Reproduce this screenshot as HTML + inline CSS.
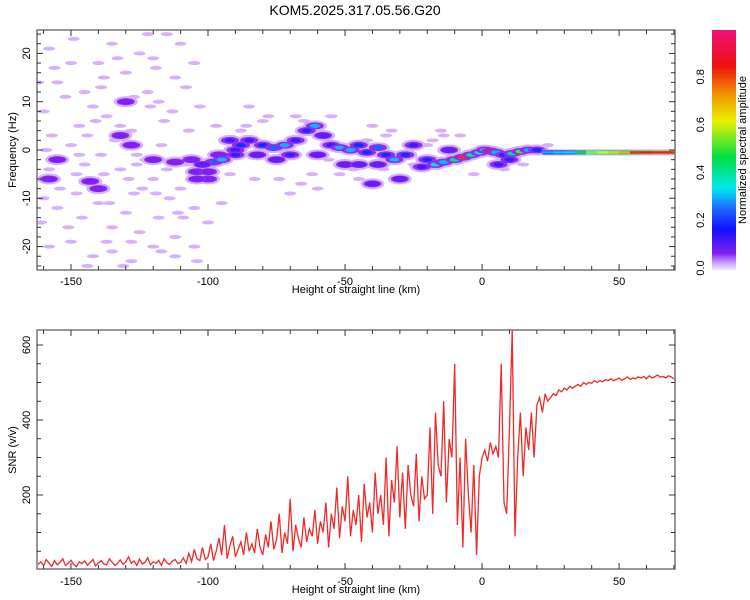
<!DOCTYPE html>
<html><head><meta charset="utf-8">
<style>
body{margin:0;background:#fff;font-family:"Liberation Sans",sans-serif;}
svg{display:block}
text{font-family:"Liberation Sans",sans-serif;fill:#000}
</style></head>
<body>
<svg id="chart" width="750" height="600" xmlns="http://www.w3.org/2000/svg">
<defs>
<linearGradient id="cg" x1="0" y1="1" x2="0" y2="0">
<stop offset="0" stop-color="#f2e6ff"/><stop offset="0.03" stop-color="#c9a0ff"/><stop offset="0.07" stop-color="#8020f0"/>
<stop offset="0.17" stop-color="#1010ff"/><stop offset="0.25" stop-color="#2060ff"/><stop offset="0.34" stop-color="#00e8f0"/>
<stop offset="0.47" stop-color="#00e040"/><stop offset="0.62" stop-color="#e8f000"/><stop offset="0.72" stop-color="#f0a000"/>
<stop offset="0.85" stop-color="#f01010"/><stop offset="1" stop-color="#f0107a"/>
</linearGradient>
<clipPath id="c1"><rect x="37" y="30" width="638" height="240"/></clipPath>
<clipPath id="c2"><rect x="37" y="330" width="638" height="239"/></clipPath>
</defs>
<text x="355" y="15" font-size="14" text-anchor="middle">KOM5.2025.317.05.56.G20</text>
<g id="spec" clip-path="url(#c1)"></g>
<g id="snr" clip-path="url(#c2)"></g>
<g id="axes"></g>
<rect x="712" y="30" width="24" height="240" fill="url(#cg)"/>
<text transform="translate(746,150) rotate(-90)" font-size="11" text-anchor="middle">Normalized spectral amplitude</text>
<text transform="translate(16,150) rotate(-90)" font-size="11" text-anchor="middle">Frequency (Hz)</text>
<text x="356" y="293" font-size="11" text-anchor="middle">Height of straight line (km)</text>
<text transform="translate(16,450) rotate(-90)" font-size="11" text-anchor="middle">SNR (v/v)</text>
<text x="356" y="593" font-size="11" text-anchor="middle">Height of straight line (km)</text>
</svg>
<script>
const xTicks=[-150,-100,-50,0,50];
const fTicks=[-20,-10,0,10,20];
const snrTicks=[200,400,600];
const cbTicks=[0.0,0.2,0.4,0.6,0.8];
const noiseX=[-158,-155,-150,-145,-140,-135,-130,-125,-120,-115,-110,-105,-160,-152,-147,-142,-137,-132,-127,-122,-118,-112,-108,-103,-157,-150,-144,-139,-134,-128,-123,-117,-158,-153,-148,-143,-138,-132,-127,-120,-115,-110,-160,-155,-146,-140,-135,-130,-125,-118,-112,-105,-158,-150,-142,-135,-128,-120,-112,-105,-100,-95,-85,-80,-65,-55,-40,-35,-25,-60,-45,-122,-162,-148,-138,-128,-116,
-156,-149,-141,-133,-126,-119,-113,-107,-161,-154,-145,-136,-129,-121,-114,-109,-151,-144,-137,-131,-124,-117,-111,-104,-159,-147,-139,-126,-119,-108,-88,-83,-78,-68,-62,-57,-47,-42,-33,-28,-18,-14,-70,-52,-36,-92,-97,-86,-74,-66,-15,-8,-3,8,15,24,-20,-56];
const noiseF=[21,14,18,12,18,22,16,20,19,24,22,18,8,11,5,9,7,5,11,12,10,15,13,9,3,1,3,-1,2,4,-2,1,-4,-2,-5,-7,-5,-4,-9,-6,-4,-8,-10,-12,-14,-11,-16,-13,-17,-14,-18,-12,-20,-19,-22,-21,-23,-20,-22,-20,-15,-11,9,6,6,7,5,3,-3,-8,-6,24,14,-9,15,-19,6,
17,23,6,19,-1,17,8,4,-15,-8,-3,-11,-6,9,-10,-14,-16,-24,-19,-24,-8,-21,-13,-23,0,-1,13,-3,-9,-3,4,-6,7,7,-5,3,-4,2,4,-6,2,3,-9,-5,-4,-5,5,5,-6,-7,4,3,-5,-4,-3,1,1,-2];
const blobX=[-155,-143,-140,-130,-132,-128,-158,-120,-112,-106,-104,-100,-96,-104,-98,-95,-102,-92,-88,-90,-85,-82,-80,-76,-72,-70,-68,-64,-61,-58,-55,-52,-48,-45,-42,-38,-35,-32,-28,-25,-30,-40,-38,-20,-17,-14,-10,-7,-4,-1,1,3,5,8,11,14,17,20,6,10,-60,-50,-45,-22,-12,-75,-90,-100];
const blobF=[-2,-6.5,-8,10,3,1,-6,-2,-2.5,-2,-4.5,-6,-1,-6,-2.5,-2,-3,2,1,0,2,-1,1,0.5,1,-1,2,4,5,3,1,0.5,0,1,-0.5,0.5,-1,-2,-1,1,-6,-7,-3,-2,-3,-2.5,-2,-1.5,-1,-0.5,0,-0.2,-0.5,-1,-0.7,-0.3,0,0,-3,-2,-1,-3,-3,-3.5,0,-2,-1,-4.5];
const blobA=[0.1,0.1,0.1,0.1,0.1,0.1,0.1,0.1,0.1,0.1,0.1,0.1,0.1,0.1,0.25,0.3,0.12,0.15,0.2,0.15,0.15,0.12,0.2,0.25,0.3,0.15,0.15,0.2,0.3,0.12,0.15,0.3,0.3,0.2,0.2,0.25,0.2,0.3,0.2,0.15,0.12,0.12,0.12,0.2,0.35,0.3,0.4,0.8,0.4,0.35,0.4,0.85,0.3,0.2,0.4,0.5,0.3,0.2,0.15,0.15,0.12,0.12,0.12,0.15,0.12,0.12,0.15,0.1];
const lineX=[22,26,30,34,38,42,46,50,54,58,62,66,70];
const lineA=[0.3,0.32,0.35,0.45,0.55,0.6,0.65,0.7,0.8,0.85,0.9,0.9,0.9];
const snrX=[];for(let k=-162;k<=70;k++)snrX.push(k);
const snrY=[15,22,12,28,18,10,25,14,20,30,12,18,26,15,9,22,17,24,13,20,28,11,19,25,16,14,30,21,12,18,27,15,22,35,18,24,12,29,16,20,33,14,22,18,26,12,30,19,15,24,28,17,
20,32,18,45,22,55,30,25,60,28,
35,70,25,50,85,40,120,30,65,90,35,55,75,40,100,50,70,45,110,60,
40,95,60,130,55,80,150,45,100,70,190,50,120,85,60,140,75,110,90,160,
70,130,100,180,60,150,110,220,85,170,130,250,90,160,120,200,75,230,140,180,
100,260,150,200,120,300,90,240,180,330,140,260,110,280,200,170,310,130,250,190,
200,380,150,420,280,250,450,180,350,300,
550,120,300,60,350,200,100,280,40,250,
300,320,290,340,310,330,300,550,180,150,380,
640,90,300,420,250,380,320,420,300,440,460,420,470,450,
460,470,465,480,475,485,480,490,485,490,495,490,500,495,500,498,505,500,505,502,508,505,510,505,508,512,506,510,515,508,512,510,515,512,516,510,518,512,515,520,514,516,512,518,515,510];

const NS='http://www.w3.org/2000/svg';
const X0=37,X1=675,XMIN=-162.4,XMAX=70.4;
const sx=v=>X0+(v-XMIN)/(XMAX-XMIN)*(X1-X0);
const sf=v=>150-v*4.83;
const sy=v=>570-v*0.375;
const sc=v=>268-v*239;
function mk(t,a,p){const e=document.createElementNS(NS,t);for(const k in a)e.setAttribute(k,a[k]);p.appendChild(e);return e;}
const stops=[[0,[232,210,255]],[0.05,[200,160,255]],[0.1,[128,32,240]],[0.18,[20,20,255]],[0.25,[30,100,255]],[0.33,[0,230,240]],[0.45,[0,224,64]],[0.6,[232,240,0]],[0.72,[240,160,0]],[0.82,[240,20,20]],[1,[240,16,122]]];
function cmap(a){for(let i=1;i<stops.length;i++){if(a<=stops[i][0]){const [a0,c0]=stops[i-1],[a1,c1]=stops[i];const t=(a-a0)/(a1-a0);return 'rgb('+c0.map((c,j)=>Math.round(c+(c1[j]-c)*t)).join(',')+')';}}return 'rgb(240,16,122)';}
const spec=document.getElementById('spec');
const axes=document.getElementById('axes');
for(let i=0;i<noiseX.length;i++){
  const e=mk('ellipse',{cx:sx(noiseX[i]),cy:sf(noiseF[i]),rx:6,ry:2,fill:'#d6b0ff'},spec);
  
  
}
for(let i=0;i<blobX.length;i++){
  const cx=sx(blobX[i]),cy=sf(blobF[i]);
  mk('ellipse',{cx:cx,cy:cy,rx:12,ry:5.5,fill:'#d6b0ff'},spec);
}
for(let i=0;i<blobX.length;i++){
  const a=blobA[i],cx=sx(blobX[i]),cy=sf(blobF[i]);
  mk('ellipse',{cx:cx,cy:cy,rx:9,ry:3.5,fill:'#8a2ef0'},spec);
  const e=mk('ellipse',{cx:cx,cy:cy,rx:a>0.12?5:7,ry:a>0.12?2:2.8,fill:cmap(a)},spec);
  
  
}
for(let i=0;i<lineX.length-1;i++){
  const x0=sx(lineX[i]),w=sx(lineX[i+1])-x0+0.5,a=lineA[i],yc=sf(-0.5);
  mk('rect',{x:x0,y:yc-3,width:w,height:6,fill:'#d0a8ff'},spec);
  mk('rect',{x:x0,y:yc-2,width:w,height:4,fill:cmap(a*0.6)},spec);
  const e=mk('rect',{x:x0,y:yc-1.2,width:w,height:2.4,fill:cmap(a)},spec);
  
  
}
const snr=document.getElementById('snr');
let d='';for(let i=0;i<snrX.length;i++)d+=(i?'L':'M')+sx(snrX[i]).toFixed(1)+' '+sy(snrY[i]).toFixed(1);
const ln=mk('path',{d:d,fill:'none',stroke:'#ee2a2a','stroke-width':1.3},snr);


function frame(y0,y1,nm){const r=mk('rect',{x:X0,y:y0,width:X1-X0,height:y1-y0,fill:'none',stroke:'#777','stroke-width':1.5},axes);}
frame(30,270,'top-plot-frame');frame(330,569,'bottom-plot-frame');
for(let v=-160;v<=70;v+=10){const x=sx(v),L=(v%50===0)?6:4;
  for(const [yt,yb] of [[30,270],[330,569]]){mk('line',{x1:x,y1:yt,x2:x,y2:yt+L,stroke:'#333'},axes);mk('line',{x1:x,y1:yb,x2:x,y2:yb-L,stroke:'#333'},axes);}}
xTicks.forEach(v=>{for(const y of [285,585]){const t=mk('text',{x:sx(v),y:y,'font-size':11,'text-anchor':'middle'},axes);t.textContent=v;}});
for(let v=-24;v<=24;v+=2){const y=sf(v),L=(v%10===0)?6:4;mk('line',{x1:X0,y1:y,x2:X0+L,y2:y,stroke:'#333'},axes);mk('line',{x1:X1,y1:y,x2:X1-L,y2:y,stroke:'#333'},axes);}
fTicks.forEach(v=>{const t=mk('text',{transform:'translate(30,'+sf(v)+') rotate(-90)','font-size':11,'text-anchor':'middle'},axes);t.textContent=v;});
for(let v=50;v<=600;v+=50){const y=sy(v),L=(v%200===0)?6:4;mk('line',{x1:X0,y1:y,x2:X0+L,y2:y,stroke:'#333'},axes);mk('line',{x1:X1,y1:y,x2:X1-L,y2:y,stroke:'#333'},axes);}
snrTicks.forEach(v=>{const t=mk('text',{transform:'translate(30,'+sy(v)+') rotate(-90)','font-size':11,'text-anchor':'middle'},axes);t.textContent=v;});
cbTicks.forEach(v=>{const t=mk('text',{transform:'translate(704,'+sc(v)+') rotate(-90)','font-size':11,'text-anchor':'middle'},axes);t.textContent=v.toFixed(1);});
</script>
</body></html>
